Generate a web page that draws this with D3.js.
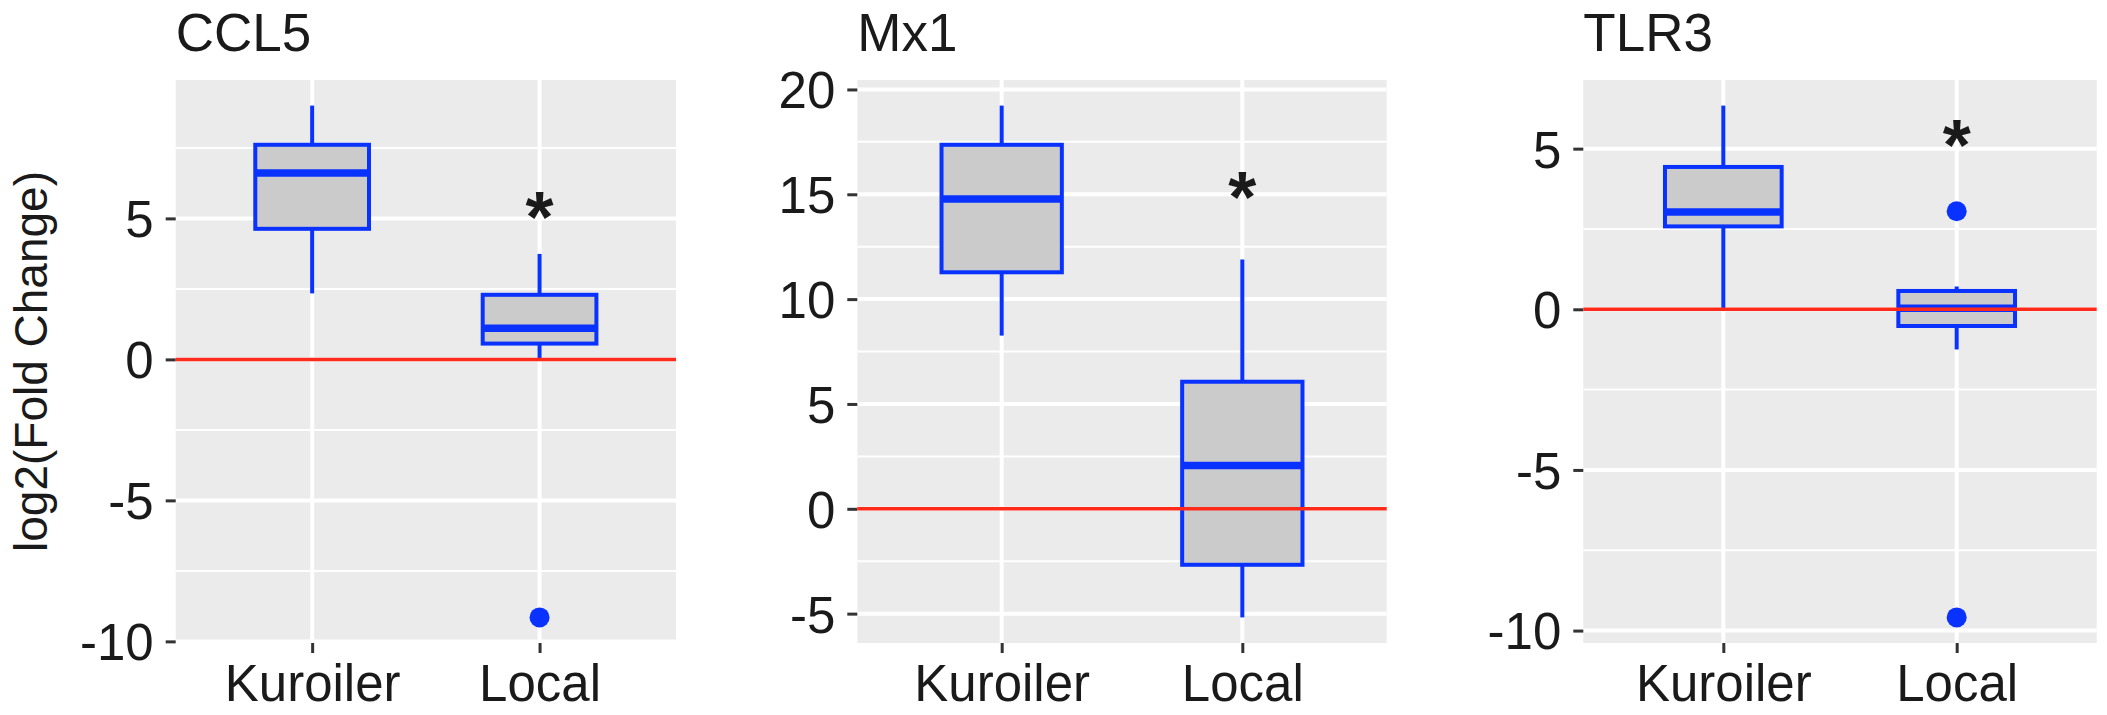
<!DOCTYPE html>
<html>
<head>
<meta charset="utf-8">
<script src="https://cdn.jsdelivr.net/npm/d3@7"></script>
<style>
  html, body { margin: 0; padding: 0; background: #fff; }
  svg { display: block; font-family: "Liberation Sans", Arial, Helvetica, sans-serif; }
</style>
</head>
<body>
<svg id="chart" width="2107" height="715"></svg>
<script>
// data
var genes = ["CCL5", "Mx1", "TLR3"];
var groups = ["Kuroiler", "Local"];

// [lower whisker, q1, median, q3, upper whisker] per group
var ccl5Stats = [[2.34, 4.63, 6.61, 7.61, 9.0], [0.05, 0.56, 1.10, 2.29, 3.74]];
var mx1Stats  = [[8.26, 11.28, 14.78, 17.36, 19.23], [-5.18, -2.67, 2.06, 6.06, 11.89]];
var tlr3Stats = [[0.02, 2.58, 3.03, 4.43, 6.34], [-1.25, -0.52, 0.03, 0.57, 0.71]];

var ccl5Outliers = [[], [-9.15]];
var mx1Outliers  = [[], []];
var tlr3Outliers = [[], [3.05, -9.59]];

// asterisk height over the Local group
var starValues = [5.6, 15.6, 5.6];

var ccl5Ticks = [-10, -5, 0, 5];
var mx1Ticks  = [-5, 0, 5, 10, 15, 20];
var tlr3Ticks = [-10, -5, 0, 5];

var yLabel = "log2(Fold Change)";

var allStats = [ccl5Stats, mx1Stats, tlr3Stats];
var allOutliers = [ccl5Outliers, mx1Outliers, tlr3Outliers];
var allTicks = [ccl5Ticks, mx1Ticks, tlr3Ticks];

// layout
var panelX = [[175.7, 676], [857.3, 1386.7], [1583.3, 2096.7]];
var plotTop = 80, plotBottom = 643;

var blue = "#0a32ff";
var red = "#ff2a1a";
var ink = "#1a1a1a";

var svg = d3.select("#chart");

genes.forEach(function(gene, p) {
    var stats = allStats[p];
    var outliers = allOutliers[p];

    // ggplot-style 5% expansion of the data range
    var vals = [];
    stats.forEach(function(s) { vals = vals.concat(s); });
    outliers.forEach(function(o) { vals = vals.concat(o); });
    var lo = d3.min(vals), hi = d3.max(vals);
    var pad = (hi - lo) * 0.05;

    var y = d3.scaleLinear()
        .domain([lo - pad, hi + pad])
        .range([plotBottom, plotTop]);

    var x = d3.scalePoint()
        .domain(groups)
        .range(panelX[p])
        .padding(0.6);

    var boxW = x.step() * 0.5;
    var left = panelX[p][0], right = panelX[p][1];

    var g = svg.append("g");

    // panel background
    g.append("rect")
        .attr("x", left)
        .attr("y", plotTop)
        .attr("width", right - left)
        .attr("height", plotBottom - plotTop)
        .attr("fill", "#ebebeb");

    // minor grid
    var ticks = allTicks[p];
    var minors = [];
    for (var i = 0; i < ticks.length + 1; i++) {
        var mv = (i < ticks.length ? ticks[i] : ticks[ticks.length - 1] + 5) - 2.5;
        if (mv > y.domain()[0] && mv < y.domain()[1]) minors.push(mv);
    }
    g.selectAll(".minor")
        .data(minors)
        .enter().append("line")
        .attr("x1", left).attr("x2", right)
        .attr("y1", function(d) { return y(d); })
        .attr("y2", function(d) { return y(d); })
        .attr("stroke", "#fff")
        .attr("stroke-width", 2);

    // major grid
    g.selectAll(".major")
        .data(ticks)
        .enter().append("line")
        .attr("x1", left).attr("x2", right)
        .attr("y1", function(d) { return y(d); })
        .attr("y2", function(d) { return y(d); })
        .attr("stroke", "#fff")
        .attr("stroke-width", 4);

    g.selectAll(".vgrid")
        .data(groups)
        .enter().append("line")
        .attr("x1", function(d) { return x(d); })
        .attr("x2", function(d) { return x(d); })
        .attr("y1", plotTop).attr("y2", plotBottom)
        .attr("stroke", "#fff")
        .attr("stroke-width", 4);

    // y axis (plain hyphen for negatives, like the original)
    var yAxis = d3.axisLeft(y)
        .tickValues(ticks)
        .tickSize(10)
        .tickPadding(12)
        .tickFormat(function(d) { return String(d); });

    var ya = g.append("g")
        .attr("transform", "translate(" + left + ",0)")
        .call(yAxis);
    ya.select(".domain").remove();
    ya.selectAll(".tick line").attr("stroke", "#333").attr("stroke-width", 3);
    ya.selectAll(".tick text")
        .attr("fill", ink)
        .style("font-size", "51px")
        .attr("dy", "0.36em");

    // x axis
    var xAxis = d3.axisBottom(x)
        .tickSize(10)
        .tickPadding(10);

    var xa = g.append("g")
        .attr("transform", "translate(0," + plotBottom + ")")
        .call(xAxis);
    xa.select(".domain").remove();
    xa.selectAll(".tick line").attr("stroke", "#333").attr("stroke-width", 3);
    xa.selectAll(".tick text")
        .attr("fill", ink)
        .style("font-size", "51px")
        .attr("y", 57.7)
        .attr("dy", null);

    // boxes
    var box = g.selectAll(".box")
        .data(stats)
        .enter().append("g");

    box.append("line")
        .attr("x1", function(d, i) { return x(groups[i]); })
        .attr("x2", function(d, i) { return x(groups[i]); })
        .attr("y1", function(d) { return y(d[4]); })
        .attr("y2", function(d) { return y(d[3]); })
        .attr("stroke", blue)
        .attr("stroke-width", 4);

    box.append("line")
        .attr("x1", function(d, i) { return x(groups[i]); })
        .attr("x2", function(d, i) { return x(groups[i]); })
        .attr("y1", function(d) { return y(d[1]); })
        .attr("y2", function(d) { return y(d[0]); })
        .attr("stroke", blue)
        .attr("stroke-width", 4);

    box.append("rect")
        .attr("x", function(d, i) { return x(groups[i]) - boxW / 2; })
        .attr("y", function(d) { return y(d[3]); })
        .attr("width", boxW)
        .attr("height", function(d) { return y(d[1]) - y(d[3]); })
        .attr("fill", "#cbcbcb")
        .attr("stroke", blue)
        .attr("stroke-width", 4);

    box.append("line")
        .attr("x1", function(d, i) { return x(groups[i]) - boxW / 2; })
        .attr("x2", function(d, i) { return x(groups[i]) + boxW / 2; })
        .attr("y1", function(d) { return y(d[2]); })
        .attr("y2", function(d) { return y(d[2]); })
        .attr("stroke", blue)
        .attr("stroke-width", 7.5);

    // outliers
    outliers.forEach(function(list, i) {
        g.selectAll(".out" + i)
            .data(list)
            .enter().append("circle")
            .attr("cx", x(groups[i]))
            .attr("cy", function(d) { return y(d); })
            .attr("r", 10)
            .attr("fill", blue);
    });

    // zero reference line
    g.append("line")
        .attr("x1", left).attr("x2", right)
        .attr("y1", y(0)).attr("y2", y(0))
        .attr("stroke", red)
        .attr("stroke-width", 3.5);

    // significance star
    g.append("text")
        .attr("x", x("Local"))
        .attr("y", y(starValues[p]))
        .attr("dy", "0.56em")
        .attr("text-anchor", "middle")
        .attr("fill", ink)
        .style("font-size", "72px")
        .style("font-weight", "bold")
        .text("*");

    // title
    g.append("text")
        .attr("x", left)
        .attr("y", 50.7)
        .attr("fill", ink)
        .style("font-size", "53px")
        .text(gene);
});

// y label on the first panel
svg.append("text")
    .attr("transform", "translate(47," + ((plotTop + plotBottom) / 2) + ") rotate(-90)")
    .attr("text-anchor", "middle")
    .attr("fill", ink)
    .style("font-size", "46px")
    .text(yLabel);
</script>
</body>
</html>
